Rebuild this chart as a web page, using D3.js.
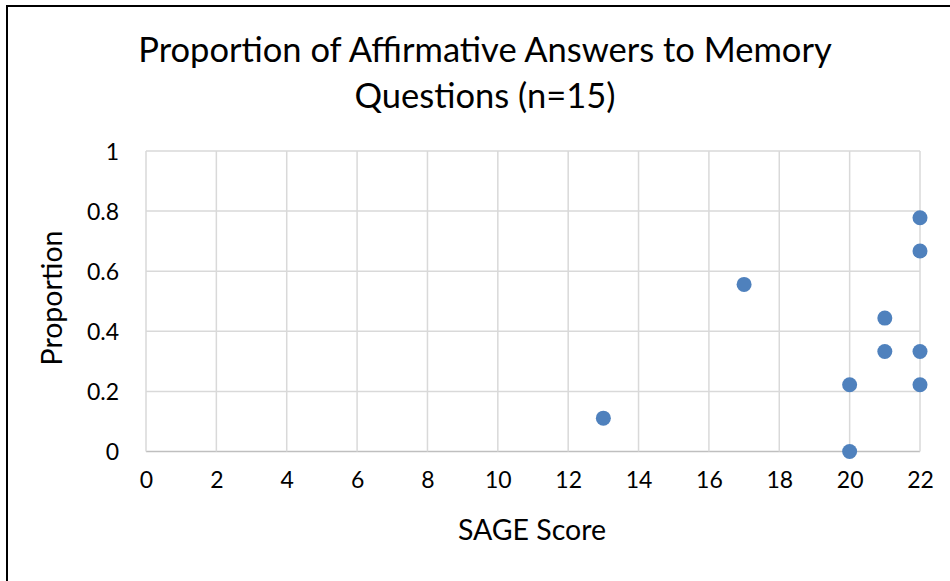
<!DOCTYPE html>
<html><head><meta charset="utf-8">
<script src="https://cdn.jsdelivr.net/npm/d3@7"></script>
<style>body{margin:0;background:#fff}svg{display:block}text{font-family:Lato,"Open Sans",sans-serif;fill:#000}</style>
</head><body>
<svg id="c" width="950" height="581"></svg>
<script>
const titleLines = ["Proportion of Affirmative Answers to Memory", "Questions (n=15)"];
const xLabel = "SAGE Score";
const yLabel = "Proportion";
const xTicks = [0,2,4,6,8,10,12,14,16,18,20,22];
const yTicks = [0,0.2,0.4,0.6,0.8,1];
const sageScore = [13,17,20,20,21,21,22,22,22,22];
const proportion = [0.111,0.556,0.222,0,0.444,0.333,0.778,0.667,0.333,0.222];

const svg = d3.select("#c");
const W = 950, H = 581;
svg.append("rect").attr("x",0).attr("y",0).attr("width",W).attr("height",H).attr("fill","#fff");
svg.append("path").attr("d",`M7,${H+5}V6H${W+5}`).attr("fill","none").attr("stroke","#000").attr("stroke-width",2);

const x = d3.scaleLinear().domain([0,22]).range([146,920]);
const y = d3.scaleLinear().domain([0,1]).range([451.5,151]);

svg.append("g").selectAll("line").data(yTicks).join("line")
  .attr("x1",x(0)).attr("x2",x(22)).attr("y1",d=>y(d)).attr("y2",d=>y(d))
  .attr("stroke",d=>d===0?"#bfbfbf":"#d9d9d9").attr("stroke-width",1.5);
svg.append("g").selectAll("line").data(xTicks).join("line")
  .attr("y1",y(0)).attr("y2",y(1)).attr("x1",d=>x(d)).attr("x2",d=>x(d))
  .attr("stroke","#d9d9d9").attr("stroke-width",1.5);

const xAxis = svg.append("g").attr("transform",`translate(0,${y(0)})`)
  .call(d3.axisBottom(x).tickValues(xTicks).tickSize(0).tickPadding(26).tickFormat(d3.format("d")));
const yAxis = svg.append("g").attr("transform",`translate(${x(0)},0)`)
  .call(d3.axisLeft(y).tickValues(yTicks).tickSize(0).tickPadding(27).tickFormat(d=>String(+d.toFixed(1))));
[xAxis,yAxis].forEach(a=>{a.select(".domain").remove();a.selectAll("text").attr("font-size",23).attr("font-family","Lato,sans-serif").attr("fill","#000");});
xAxis.selectAll("text").attr("dy","0.45em");
yAxis.selectAll("text").attr("dy","0.36em");

svg.append("g").selectAll("circle").data(sageScore.map((s,i)=>[s,proportion[i]])).join("circle")
  .attr("cx",d=>x(d[0])).attr("cy",d=>y(d[1])).attr("r",7.5).attr("fill","#4f81bd");

svg.append("g").selectAll("text").data(titleLines).join("text")
  .attr("x",485).attr("y",(d,i)=>62+i*46).attr("text-anchor","middle").attr("font-size",34.5).text(d=>d);

svg.append("text").attr("x",532).attr("y",540).attr("text-anchor","middle").attr("font-size",28.5).text(xLabel);
svg.append("text").attr("transform","translate(62,298) rotate(-90)").attr("text-anchor","middle").attr("font-size",28.5).text(yLabel);
</script>
</body></html>
